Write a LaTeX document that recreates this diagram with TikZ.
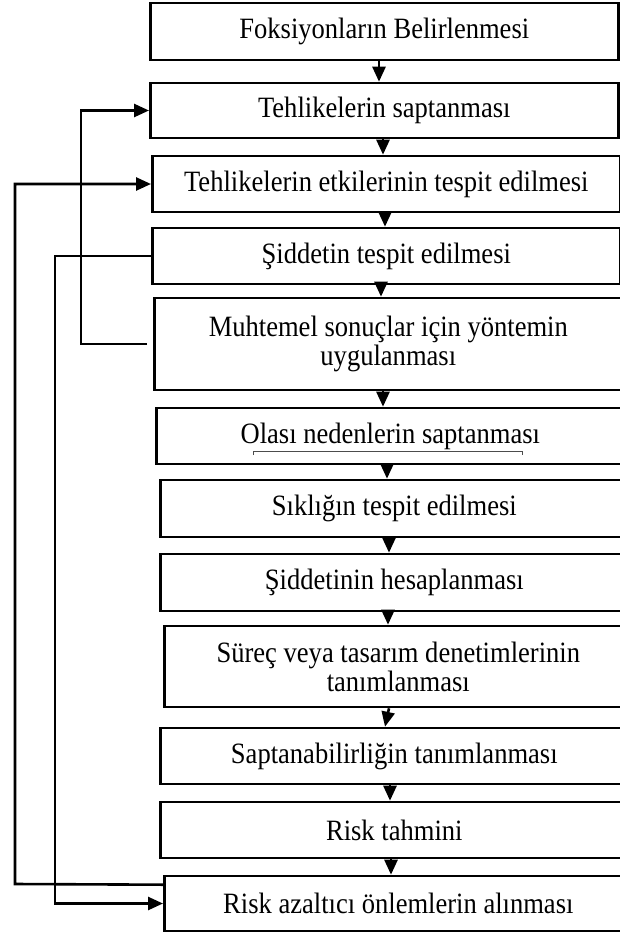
\documentclass[tikz,border=0pt]{standalone}
\usepackage{fontspec}
\setmainfont{Liberation Serif}
\newfontfamily\boxfont[FakeStretch=0.9]{Liberation Serif}
\usetikzlibrary{arrows.meta}
\begin{document}
\begin{tikzpicture}[x=1pt,y=-1pt,
  box/.style={draw, line width=2.6pt, rectangle, anchor=west, minimum width=468pt,
    inner sep=0pt, align=center, font=\boxfont\fontsize{29.5pt}{29pt}\selectfont},
  arr/.style={line width=2.6pt, -{Triangle[width=13pt,length=15pt]}},
  mark line/.style={line width=0.8pt, black!70}]
\useasboundingbox (0,0) rectangle (619,932);
\node[box, minimum height=57pt] (b1) at (149,31.5) {Foksiyonların Belirlenmesi};
\node[box, minimum height=55pt] (b2) at (149,110.5) {Tehlikelerin saptanması};
\node[box, minimum height=56pt] (b3) at (151,184) {Tehlikelerin etkilerinin tespit edilmesi};
\node[box, minimum height=56pt] (b4) at (151,256) {Şiddetin tespit edilmesi};
\node[box, minimum height=92pt] (b5) at (153,344) {Muhtemel sonuçlar için yöntemin\\uygulanması};
\node[box, minimum height=56pt] (b6) at (155,436) {Olası nedenlerin saptanması};
\node[box, minimum height=57pt] (b7) at (159,508.5) {Sıklığın tespit edilmesi};
\node[box, minimum height=57pt] (b8) at (159,582.5) {Şiddetinin hesaplanması};
\node[box, minimum height=81pt] (b9) at (163,666.5) {Süreç veya tasarım denetimlerinin\\tanımlanması};
\node[box, minimum height=56pt] (b10) at (159,756) {Saptanabilirliğin tanımlanması};
\node[box, minimum height=56pt] (b11) at (159,830) {Risk tahmini};
\node[box, minimum height=55pt] (b12) at (163,903.5) {Risk azaltıcı önlemlerin alınması};

% main flow
\draw[arr] (b1.south -| 379,0) -- (b2.north -| 379,0);
\draw[arr] (b2.south -| 383,0) -- (b3.north -| 383,0);
\draw[arr] (b3.south -| 385,0) -- (b4.north -| 385,0);
\draw[arr] (b4.south -| 381,0) -- (b5.north -| 381,0);
\draw[arr] (b5.south -| 383,0) -- (b6.north -| 383,0);
\draw[arr] (b6.south -| 387,0) -- (b7.north -| 387,0);
\draw[arr] (b7.south -| 389,0) -- (b8.north -| 389,0);
\draw[arr] (b8.south -| 388,0) -- (b9.north -| 388,0);
\draw[arr] (b9.south -| 389,0) -- (b10.north -| 385,0);
\draw[arr] (b10.south -| 390,0) -- (b11.north -| 390,0);
\draw[arr] (b11.south -| 391,0) -- (b12.north -| 391,0);

% feedback loops
\coordinate (c1) at (81,110.5);
\coordinate (c2) at (15,884);
\coordinate (c3) at (55,903.5);
\draw[arr] ([xshift=-6pt]b5.west) -| (c1) -- (b2.west);
\draw[arr] ([yshift=-10pt]b12.north west) -- (c2) |- (b3.west);
\draw[arr] (b4.west) -| (c3) -- (b12.west);

% small bracket line under text
\draw[mark line] (253,455) -- (253,451) -- (522,451) -- (522,455);
\end{tikzpicture}
\end{document}
